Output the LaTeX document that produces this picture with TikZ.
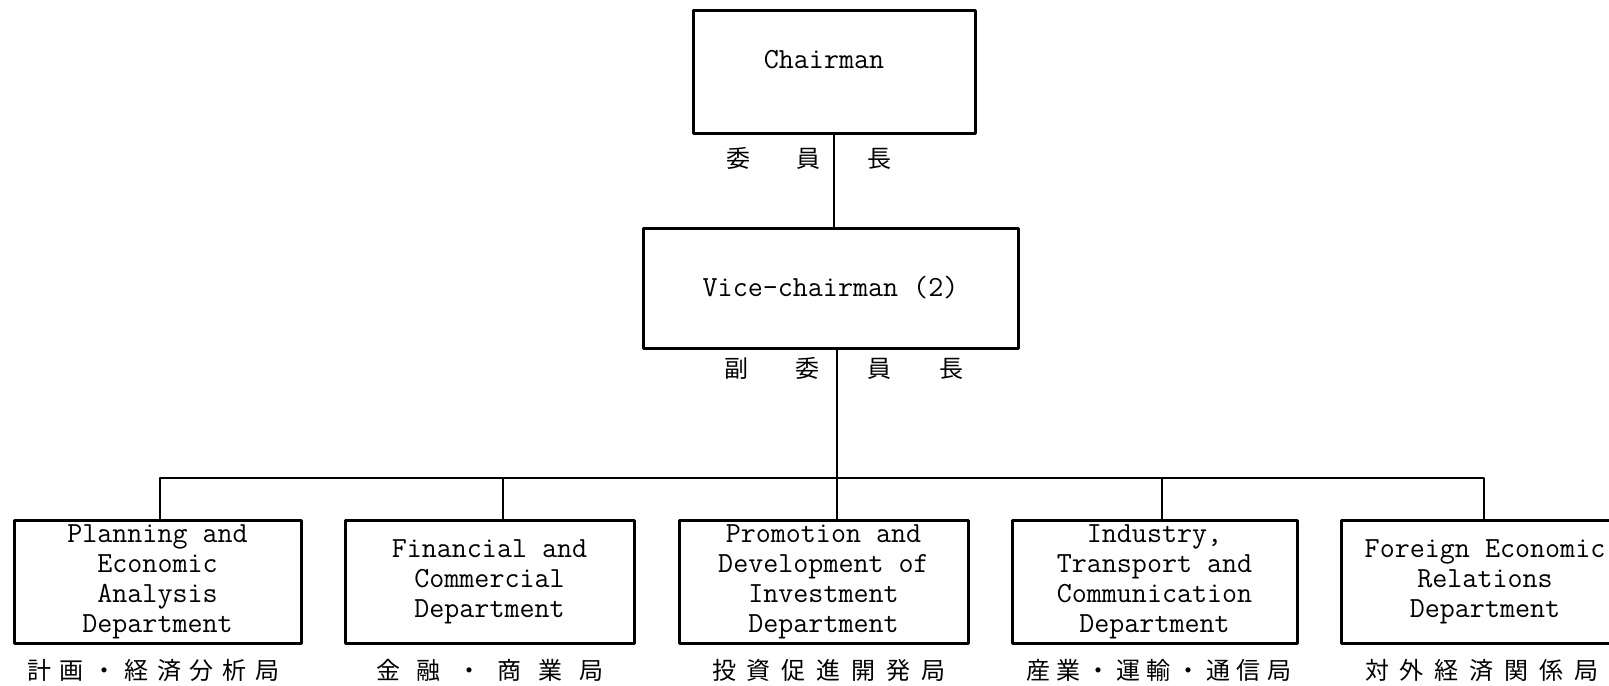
\documentclass[tikz,border=0pt]{standalone}
\usepackage{fontspec}
\newfontfamily\jpfont{Noto Sans CJK JP}
\begin{document}
\begin{tikzpicture}[x=0.5pt,y=-0.5pt,line join=round,
  box/.style={draw,line width=1.5pt,inner sep=0pt,align=center,minimum height=61.5pt,
    font=\ttfamily\fontsize{14.6pt}{15pt}\selectfont},
  jp/.style={inner sep=0pt,font=\jpfont\fontsize{12pt}{12pt}\selectfont},
  link/.style={line width=1pt}]
\useasboundingbox (0,0) rectangle (1609,685);
\clip (0,0) rectangle (1609,685);
% top
\node[box,minimum width=141pt] (chair) at (834,71.5) {\raisebox{6pt}[\height][\depth]{Chairman}\kern10pt};
\node[box,minimum width=187.5pt,minimum height=60pt] (vice) at (830.5,288) {Vice-chairman (2)};
\node[jp] (chairjp) at (808.5,158) {\makebox[82.5pt][s]{委 員 長}};
\node[jp] (vicejp) at (843.5,368) {\makebox[119.5pt][s]{副 委 員 長}};
% departments
\node[box,minimum width=143.5pt] (plan) at (157.5,581.5) {Planning and\\Economic\\Analysis\\Department};
\node[box,minimum width=144.5pt] (fin) at (489.5,581.5) {Financial and\\Commercial\\Department};
\node[box,minimum width=144.5pt] (prom) at (823.5,581.5) {Promotion and\\Development of\\Investment\\Department};
\node[box,minimum width=142.5pt] (ind) at (1154.5,581.5) {Industry,\\Transport and\\Communication\\Department};
\node[box,minimum width=144pt] (frgn) at (1485,581.5) {Foreign Economic\\Relations\\Department};
\node[jp] (planjp) at (153,670) {\makebox[126pt][s]{計 画 ・ 経 済 分 析 局}};
\node[jp] (finjp) at (489.5,670) {\makebox[113.5pt][s]{金 融 ・ 商 業 局}};
\node[jp] (promjp) at (828.5,670) {\makebox[116.5pt][s]{投 資 促 進 開 発 局}};
\node[jp] (indjp) at (1158.5,670) {\makebox[132.5pt][s]{産 業 ・ 運 輸 ・ 通 信 局}};
\node[jp] (frgnjp) at (1481.5,670) {\makebox[116.5pt][s]{対 外 経 済 関 係 局}};
% lines
\coordinate (d1) at (160,478);
\coordinate (d2) at (503,478);
\coordinate (d3) at (837,478);
\coordinate (d4) at (1162,478);
\coordinate (d5) at (1484,478);
\draw[link] (chair.south) -- (chair.south |- vice.north);
\draw[link] (vice.south -| d3) -- (d3);
\draw[link] (d1 |- plan.north) -- (d1) -- (d5) -- (d5 |- frgn.north);
\foreach \d/\b in {d2/fin,d3/prom,d4/ind}
  \draw[link] (\d) -- (\d |- \b.north);
\end{tikzpicture}
\end{document}
